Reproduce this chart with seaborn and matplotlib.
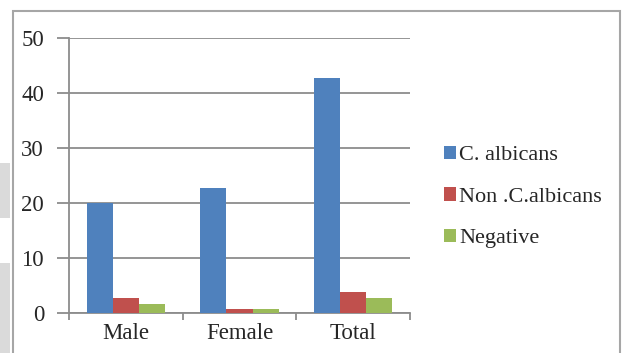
import matplotlib
matplotlib.use("Agg")
import matplotlib.pyplot as plt
from matplotlib.patches import Rectangle
import seaborn as sns
import pandas as pd

# Study groups and isolate counts (%)
groups = ["Male", "Female", "Total"]
series = ["C. albicans", "Non .C.albicans", "Negative"]
c_albicans = [20.0, 22.8, 42.8]
non_c_albicans = [2.7, 0.8, 3.8]
negative = [1.6, 0.8, 2.7]
y_ticks = [0, 10, 20, 30, 40, 50]

palette = ["#4f81bd", "#c0504d", "#9bbb59"]

rows = []
for name, vals in zip(series, [c_albicans, non_c_albicans, negative]):
    for g, v in zip(groups, vals):
        rows.append({"group": g, "series": name, "value": v})
df = pd.DataFrame(rows)

sns.set_style("white")
plt.rcParams["font.family"] = "serif"
plt.rcParams["font.serif"] = ["Liberation Serif", "Times New Roman", "DejaVu Serif"]

W, H = 622, 353
FS = 16.5
fig = plt.figure(figsize=(W / 100, H / 100), dpi=100)
ax = fig.add_axes([69 / W, 1 - 313 / H, (410 - 69) / W, (313 - 38) / H])

sns.barplot(data=df, x="group", y="value", hue="series", palette=palette,
            hue_order=series, order=groups, width=0.69, saturation=1,
            edgecolor="none", ax=ax, zorder=3)

ax.set_ylim(0, 50)
ax.set_xlim(-0.5, 2.5)
ax.set_yticks(y_ticks)
ax.set_yticklabels([str(t) for t in y_ticks])
ax.yaxis.grid(True, color="#8c8c8c", linewidth=1.3, zorder=0)
ax.set_axisbelow(True)
ax.set_xlabel("")
ax.set_ylabel("")

for side in ["top", "right"]:
    ax.spines[side].set_visible(False)
for side in ["left", "bottom"]:
    ax.spines[side].set_color("#8c8c8c")
    ax.spines[side].set_linewidth(1.3)

# y ticks extend left of the axis; x ticks sit between categories
ax.tick_params(axis="y", which="major", direction="out", length=9, width=1.3,
               color="#8c8c8c", labelsize=FS, pad=9, left=True)
ax.set_xticks([-0.5, 0.5, 1.5, 2.5], minor=True)
ax.set_xticks(range(len(groups)))
ax.set_xticklabels(groups)
ax.tick_params(axis="x", which="major", length=0, labelsize=FS, pad=7.5)
ax.tick_params(axis="x", which="minor", direction="out", length=5, width=1.3,
               color="#8c8c8c", bottom=True)

handles, labels = ax.get_legend_handles_labels()
ax.legend(handles, labels, loc="center left",
          bbox_to_anchor=(435 / W, 1 - 197 / H), bbox_transform=fig.transFigure,
          frameon=False, fontsize=16, handlelength=0.55, handleheight=0.55,
          handletextpad=0.15, labelspacing=0.98, borderaxespad=0)

# outer chart border and page shading at the left edge
fig.patches.append(Rectangle((0, 1 - 218 / H), 10 / W, 55 / H,
                             transform=fig.transFigure, facecolor="#dadada",
                             edgecolor="none"))
fig.patches.append(Rectangle((0, 0), 10 / W, 1 - 263 / H,
                             transform=fig.transFigure, facecolor="#dadada",
                             edgecolor="none"))
fig.patches.append(Rectangle((13 / W, -0.05), (620 - 13) / W, 1 - 11 / H + 0.05,
                             transform=fig.transFigure, facecolor="none",
                             edgecolor="#a6a6a6", linewidth=1.5))

fig.savefig("out.png", dpi=100)
